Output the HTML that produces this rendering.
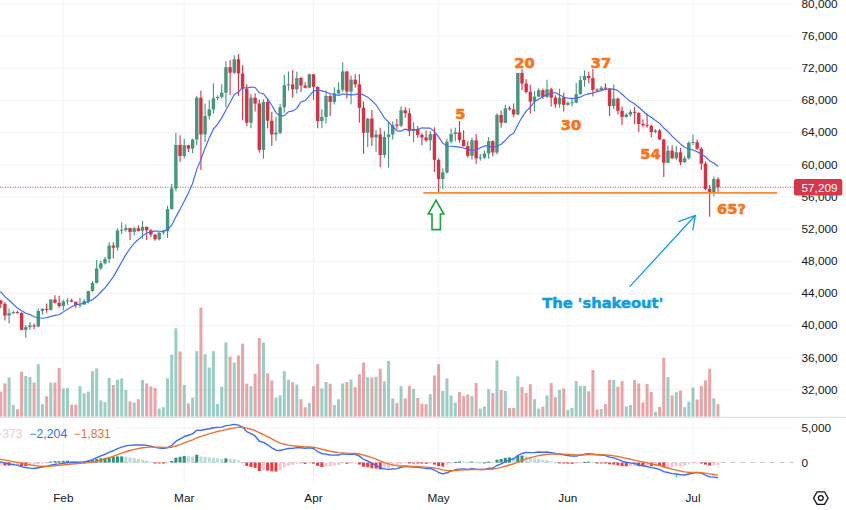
<!DOCTYPE html>
<html lang="en"><head><meta charset="utf-8"><title>BTCUSD chart</title>
<style>html,body{margin:0;padding:0;background:#fff}body{width:846px;height:510px;overflow:hidden}svg{display:block}</style>
</head><body>
<svg width="846" height="510" viewBox="0 0 846 510">
<rect width="846" height="510" fill="#fff"/>
<g stroke="#f1f3f4" stroke-width="1" fill="none">
<path d="M0 3.9 H793.6"/>
<path d="M0 36.08 H793.6"/>
<path d="M0 68.25 H793.6"/>
<path d="M0 100.43 H793.6"/>
<path d="M0 132.6 H793.6"/>
<path d="M0 164.78 H793.6"/>
<path d="M0 196.96 H793.6"/>
<path d="M0 229.13 H793.6"/>
<path d="M0 261.31 H793.6"/>
<path d="M0 293.48 H793.6"/>
<path d="M0 325.66 H793.6"/>
<path d="M0 357.84 H793.6"/>
<path d="M0 390.01 H793.6"/>
<path d="M116 427.9 H793.6"/>
<path d="M63.3 0 V483"/>
<path d="M184.23 0 V483"/>
<path d="M313.5 0 V483"/>
<path d="M438.6 0 V483"/>
<path d="M567.87 0 V483"/>
<path d="M692.97 0 V483"/>
</g>
<g fill="rgba(58,155,135,0.5)">
<rect x="7.59" y="377.5" width="3" height="39.2"/>
<rect x="11.76" y="405" width="3" height="11.7"/>
<rect x="24.27" y="375.9" width="3" height="40.8"/>
<rect x="28.44" y="377" width="3" height="39.7"/>
<rect x="36.78" y="364.2" width="3" height="52.5"/>
<rect x="40.95" y="404.2" width="3" height="12.5"/>
<rect x="49.29" y="382.5" width="3" height="34.2"/>
<rect x="61.8" y="388.4" width="3" height="28.3"/>
<rect x="65.97" y="388" width="3" height="28.7"/>
<rect x="78.48" y="386.2" width="3" height="30.5"/>
<rect x="82.65" y="393.4" width="3" height="23.3"/>
<rect x="86.82" y="391.7" width="3" height="25"/>
<rect x="90.99" y="371.2" width="3" height="45.5"/>
<rect x="95.16" y="368.4" width="3" height="48.3"/>
<rect x="99.33" y="400.4" width="3" height="16.3"/>
<rect x="103.5" y="402.2" width="3" height="14.5"/>
<rect x="107.67" y="378" width="3" height="38.7"/>
<rect x="116.01" y="379.7" width="3" height="37"/>
<rect x="120.18" y="378.4" width="3" height="38.3"/>
<rect x="124.35" y="390" width="3" height="26.7"/>
<rect x="132.69" y="402.5" width="3" height="14.2"/>
<rect x="141.03" y="380" width="3" height="36.7"/>
<rect x="157.71" y="408.7" width="3" height="8"/>
<rect x="161.88" y="407.2" width="3" height="9.5"/>
<rect x="166.05" y="378.4" width="3" height="38.3"/>
<rect x="170.22" y="354.7" width="3" height="62"/>
<rect x="174.39" y="328.3" width="3" height="88.4"/>
<rect x="182.73" y="385" width="3" height="31.7"/>
<rect x="191.07" y="397.5" width="3" height="19.2"/>
<rect x="195.24" y="351.2" width="3" height="65.5"/>
<rect x="203.58" y="354.2" width="3" height="62.5"/>
<rect x="207.75" y="367.5" width="3" height="49.2"/>
<rect x="211.92" y="351.2" width="3" height="65.5"/>
<rect x="216.09" y="403.9" width="3" height="12.8"/>
<rect x="220.26" y="386.7" width="3" height="30"/>
<rect x="224.43" y="342.2" width="3" height="74.5"/>
<rect x="232.77" y="362.5" width="3" height="54.2"/>
<rect x="249.45" y="386.2" width="3" height="30.5"/>
<rect x="261.96" y="342.5" width="3" height="74.2"/>
<rect x="274.47" y="397.5" width="3" height="19.2"/>
<rect x="278.64" y="395.4" width="3" height="21.3"/>
<rect x="282.81" y="371.2" width="3" height="45.5"/>
<rect x="286.98" y="379.7" width="3" height="37"/>
<rect x="295.32" y="384.5" width="3" height="32.2"/>
<rect x="307.83" y="403" width="3" height="13.7"/>
<rect x="320.34" y="388.4" width="3" height="28.3"/>
<rect x="324.51" y="382" width="3" height="34.7"/>
<rect x="332.85" y="405" width="3" height="11.7"/>
<rect x="337.02" y="399.2" width="3" height="17.5"/>
<rect x="341.19" y="383.4" width="3" height="33.3"/>
<rect x="349.53" y="379.5" width="3" height="37.2"/>
<rect x="366.21" y="377.2" width="3" height="39.5"/>
<rect x="374.55" y="376.7" width="3" height="40"/>
<rect x="382.89" y="381.4" width="3" height="35.3"/>
<rect x="387.06" y="360.9" width="3" height="55.8"/>
<rect x="391.23" y="398.4" width="3" height="18.3"/>
<rect x="399.57" y="386.2" width="3" height="30.5"/>
<rect x="412.08" y="388.9" width="3" height="27.8"/>
<rect x="428.76" y="394.2" width="3" height="22.5"/>
<rect x="441.27" y="390.9" width="3" height="25.8"/>
<rect x="445.44" y="378.4" width="3" height="38.3"/>
<rect x="449.61" y="395.4" width="3" height="21.3"/>
<rect x="453.78" y="402.5" width="3" height="14.2"/>
<rect x="470.46" y="395.9" width="3" height="20.8"/>
<rect x="478.8" y="408.7" width="3" height="8"/>
<rect x="482.97" y="406.4" width="3" height="10.3"/>
<rect x="487.14" y="389.2" width="3" height="27.5"/>
<rect x="495.48" y="360.4" width="3" height="56.3"/>
<rect x="503.82" y="391" width="3" height="25.7"/>
<rect x="516.33" y="376.4" width="3" height="40.3"/>
<rect x="533.01" y="399.2" width="3" height="17.5"/>
<rect x="537.18" y="408.7" width="3" height="8"/>
<rect x="545.52" y="395.4" width="3" height="21.3"/>
<rect x="558.03" y="390" width="3" height="26.7"/>
<rect x="566.37" y="410" width="3" height="6.7"/>
<rect x="570.54" y="408" width="3" height="8.7"/>
<rect x="574.71" y="381" width="3" height="35.7"/>
<rect x="578.88" y="385.9" width="3" height="30.8"/>
<rect x="583.05" y="385.9" width="3" height="30.8"/>
<rect x="599.73" y="409" width="3" height="7.7"/>
<rect x="612.24" y="380" width="3" height="36.7"/>
<rect x="624.75" y="406.4" width="3" height="10.3"/>
<rect x="628.92" y="405" width="3" height="11.7"/>
<rect x="653.94" y="411.7" width="3" height="5"/>
<rect x="666.45" y="377" width="3" height="39.7"/>
<rect x="674.79" y="392.2" width="3" height="24.5"/>
<rect x="683.13" y="407.2" width="3" height="9.5"/>
<rect x="687.3" y="401.7" width="3" height="15"/>
<rect x="691.47" y="387.5" width="3" height="29.2"/>
<rect x="712.32" y="398.4" width="3" height="18.3"/>
</g>
<g fill="rgba(211,73,79,0.5)">
<rect x="-0.75" y="391.7" width="3" height="25"/>
<rect x="3.42" y="383.4" width="3" height="33.3"/>
<rect x="15.93" y="409.2" width="3" height="7.5"/>
<rect x="20.1" y="371.7" width="3" height="45"/>
<rect x="32.61" y="382.5" width="3" height="34.2"/>
<rect x="45.12" y="396.4" width="3" height="20.3"/>
<rect x="53.46" y="382.5" width="3" height="34.2"/>
<rect x="57.63" y="367.9" width="3" height="48.8"/>
<rect x="70.14" y="404.7" width="3" height="12"/>
<rect x="74.31" y="404.7" width="3" height="12"/>
<rect x="111.84" y="385" width="3" height="31.7"/>
<rect x="128.52" y="401.4" width="3" height="15.3"/>
<rect x="136.86" y="399.2" width="3" height="17.5"/>
<rect x="145.2" y="383.4" width="3" height="33.3"/>
<rect x="149.37" y="386.4" width="3" height="30.3"/>
<rect x="153.54" y="388" width="3" height="28.7"/>
<rect x="178.56" y="351.4" width="3" height="65.3"/>
<rect x="186.9" y="403.4" width="3" height="13.3"/>
<rect x="199.41" y="307.5" width="3" height="109.2"/>
<rect x="228.6" y="356.7" width="3" height="60"/>
<rect x="236.94" y="355.4" width="3" height="61.3"/>
<rect x="241.11" y="343.7" width="3" height="73"/>
<rect x="245.28" y="383.7" width="3" height="33"/>
<rect x="253.62" y="373.7" width="3" height="43"/>
<rect x="257.79" y="338" width="3" height="78.7"/>
<rect x="266.13" y="373.4" width="3" height="43.3"/>
<rect x="270.3" y="380.4" width="3" height="36.3"/>
<rect x="291.15" y="382.2" width="3" height="34.5"/>
<rect x="299.49" y="399.2" width="3" height="17.5"/>
<rect x="303.66" y="407.2" width="3" height="9.5"/>
<rect x="312" y="386.2" width="3" height="30.5"/>
<rect x="316.17" y="364.2" width="3" height="52.5"/>
<rect x="328.68" y="383.7" width="3" height="33"/>
<rect x="345.36" y="382" width="3" height="34.7"/>
<rect x="353.7" y="387.2" width="3" height="29.5"/>
<rect x="357.87" y="374.2" width="3" height="42.5"/>
<rect x="362.04" y="362.5" width="3" height="54.2"/>
<rect x="370.38" y="377.5" width="3" height="39.2"/>
<rect x="378.72" y="368.7" width="3" height="48"/>
<rect x="395.4" y="403" width="3" height="13.7"/>
<rect x="403.74" y="398.4" width="3" height="18.3"/>
<rect x="407.91" y="385.9" width="3" height="30.8"/>
<rect x="416.25" y="398" width="3" height="18.7"/>
<rect x="420.42" y="403.7" width="3" height="13"/>
<rect x="424.59" y="404.2" width="3" height="12.5"/>
<rect x="432.93" y="375.5" width="3" height="41.2"/>
<rect x="437.1" y="364.2" width="3" height="52.5"/>
<rect x="457.95" y="392" width="3" height="24.7"/>
<rect x="462.12" y="396.2" width="3" height="20.5"/>
<rect x="466.29" y="394.5" width="3" height="22.2"/>
<rect x="474.63" y="383" width="3" height="33.7"/>
<rect x="491.31" y="393" width="3" height="23.7"/>
<rect x="499.65" y="390" width="3" height="26.7"/>
<rect x="507.99" y="408" width="3" height="8.7"/>
<rect x="512.16" y="408" width="3" height="8.7"/>
<rect x="520.5" y="387" width="3" height="29.7"/>
<rect x="524.67" y="393" width="3" height="23.7"/>
<rect x="528.84" y="384.2" width="3" height="32.5"/>
<rect x="541.35" y="406.7" width="3" height="10"/>
<rect x="549.69" y="382.9" width="3" height="33.8"/>
<rect x="553.86" y="397.2" width="3" height="19.5"/>
<rect x="562.2" y="388.4" width="3" height="28.3"/>
<rect x="587.22" y="391.4" width="3" height="25.3"/>
<rect x="591.39" y="370" width="3" height="46.7"/>
<rect x="595.56" y="409.5" width="3" height="7.2"/>
<rect x="603.9" y="403.9" width="3" height="12.8"/>
<rect x="608.07" y="380" width="3" height="36.7"/>
<rect x="616.41" y="386.7" width="3" height="30"/>
<rect x="620.58" y="381" width="3" height="35.7"/>
<rect x="633.09" y="380" width="3" height="36.7"/>
<rect x="637.26" y="383.4" width="3" height="33.3"/>
<rect x="641.43" y="402.5" width="3" height="14.2"/>
<rect x="645.6" y="383.9" width="3" height="32.8"/>
<rect x="649.77" y="392" width="3" height="24.7"/>
<rect x="658.11" y="407" width="3" height="9.7"/>
<rect x="662.28" y="358" width="3" height="58.7"/>
<rect x="670.62" y="395.4" width="3" height="21.3"/>
<rect x="678.96" y="390.5" width="3" height="26.2"/>
<rect x="695.64" y="399.4" width="3" height="17.3"/>
<rect x="699.81" y="386.2" width="3" height="30.5"/>
<rect x="703.98" y="380.4" width="3" height="36.3"/>
<rect x="708.15" y="368.7" width="3" height="48"/>
<rect x="716.49" y="404.2" width="3" height="12.5"/>
</g>
<path d="M0 417.3 H846" stroke="#e0e3eb" stroke-width="1.2"/>
<path d="M0 187.23 H793.6" stroke="#d93046" stroke-width="1" stroke-dasharray="1 1.5" opacity="0.9"/>
<g fill="#44967c" stroke="#44967c">
<path d="M9.09 308.53 V323.57" stroke-width="1.1" fill="none"/>
<rect x="7.39" y="313.19" width="3.4" height="2.33" stroke="none"/>
<path d="M13.26 310.7 V314" stroke-width="1.1" fill="none"/>
<rect x="11.56" y="312.15" width="3.4" height="1.05" stroke="none"/>
<path d="M25.77 325.18 V337.73" stroke-width="1.1" fill="none"/>
<rect x="24.07" y="327.19" width="3.4" height="2.65" stroke="none"/>
<path d="M29.94 321.88 V329.76" stroke-width="1.1" fill="none"/>
<rect x="28.24" y="325.5" width="3.4" height="1.69" stroke="none"/>
<path d="M38.28 308.53 V327.27" stroke-width="1.1" fill="none"/>
<rect x="36.58" y="311.02" width="3.4" height="15.44" stroke="none"/>
<path d="M42.45 308.2 V314.4" stroke-width="1.1" fill="none"/>
<rect x="40.75" y="308.85" width="3.4" height="2.17" stroke="none"/>
<path d="M50.79 299.2 V310.54" stroke-width="1.1" fill="none"/>
<rect x="49.09" y="299.52" width="3.4" height="10.38" stroke="none"/>
<path d="M63.3 299.84 V310.22" stroke-width="1.1" fill="none"/>
<rect x="61.6" y="301.37" width="3.4" height="4.67" stroke="none"/>
<path d="M67.47 298.15 V304.83" stroke-width="1.1" fill="none"/>
<rect x="65.77" y="300.46" width="3.4" height="1" stroke="none"/>
<path d="M79.98 297.67 V307.72" stroke-width="1.1" fill="none"/>
<rect x="78.28" y="304.37" width="3.4" height="1" stroke="none"/>
<path d="M84.15 299.36 V304.83" stroke-width="1.1" fill="none"/>
<rect x="82.45" y="301.05" width="3.4" height="3.46" stroke="none"/>
<path d="M88.32 290.67 V303.54" stroke-width="1.1" fill="none"/>
<rect x="86.62" y="291.07" width="3.4" height="9.97" stroke="none"/>
<path d="M92.49 281.02 V291.71" stroke-width="1.1" fill="none"/>
<rect x="90.79" y="282.87" width="3.4" height="8.2" stroke="none"/>
<path d="M96.66 260.02 V283.43" stroke-width="1.1" fill="none"/>
<rect x="94.96" y="268.35" width="3.4" height="14.52" stroke="none"/>
<path d="M100.83 260.66 V270" stroke-width="1.1" fill="none"/>
<rect x="99.13" y="263.32" width="3.4" height="5.03" stroke="none"/>
<path d="M105 256.64 V264.53" stroke-width="1.1" fill="none"/>
<rect x="103.3" y="258.98" width="3.4" height="4.34" stroke="none"/>
<path d="M109.17 242.32 V263.32" stroke-width="1.1" fill="none"/>
<rect x="107.47" y="245.62" width="3.4" height="13.35" stroke="none"/>
<path d="M117.51 228.33 V250.69" stroke-width="1.1" fill="none"/>
<rect x="115.81" y="230.5" width="3.4" height="17.13" stroke="none"/>
<path d="M121.68 222.29 V233.96" stroke-width="1.1" fill="none"/>
<rect x="119.98" y="229.72" width="3.4" height="1" stroke="none"/>
<path d="M125.85 224.55 V231.71" stroke-width="1.1" fill="none"/>
<rect x="124.15" y="228.01" width="3.4" height="1.93" stroke="none"/>
<path d="M134.19 226.72 V235.57" stroke-width="1.1" fill="none"/>
<rect x="132.49" y="228.17" width="3.4" height="3.7" stroke="none"/>
<path d="M142.53 220.85 V238.7" stroke-width="1.1" fill="none"/>
<rect x="140.83" y="226.88" width="3.4" height="4.02" stroke="none"/>
<path d="M159.21 232.35 V240.39" stroke-width="1.1" fill="none"/>
<rect x="157.51" y="232.59" width="3.4" height="6.68" stroke="none"/>
<path d="M163.38 229.94 V234.76" stroke-width="1.1" fill="none"/>
<rect x="161.68" y="231.3" width="3.4" height="1.29" stroke="none"/>
<path d="M167.55 205.64 V237.9" stroke-width="1.1" fill="none"/>
<rect x="165.85" y="209.18" width="3.4" height="22.12" stroke="none"/>
<path d="M171.72 184.09 V209.18" stroke-width="1.1" fill="none"/>
<rect x="170.02" y="188.51" width="3.4" height="20.67" stroke="none"/>
<path d="M175.89 132.76 V191.16" stroke-width="1.1" fill="none"/>
<rect x="174.19" y="144.95" width="3.4" height="43.56" stroke="none"/>
<path d="M184.23 138.64 V158.34" stroke-width="1.1" fill="none"/>
<rect x="182.53" y="145.31" width="3.4" height="10.62" stroke="none"/>
<path d="M192.57 138.64 V153.28" stroke-width="1.1" fill="none"/>
<rect x="190.87" y="139.44" width="3.4" height="9.17" stroke="none"/>
<path d="M196.74 96 V145.31" stroke-width="1.1" fill="none"/>
<rect x="195.04" y="97.69" width="3.4" height="41.75" stroke="none"/>
<path d="M205.08 103.57 V141.94" stroke-width="1.1" fill="none"/>
<rect x="203.38" y="116.03" width="3.4" height="18.42" stroke="none"/>
<path d="M209.25 100.19 V119.41" stroke-width="1.1" fill="none"/>
<rect x="207.55" y="109.36" width="3.4" height="6.68" stroke="none"/>
<path d="M213.42 83.21 V113.86" stroke-width="1.1" fill="none"/>
<rect x="211.72" y="98.18" width="3.4" height="11.18" stroke="none"/>
<path d="M217.59 95.2 V100.19" stroke-width="1.1" fill="none"/>
<rect x="215.89" y="96.89" width="3.4" height="1.29" stroke="none"/>
<path d="M221.76 84.34 V98.5" stroke-width="1.1" fill="none"/>
<rect x="220.06" y="92.71" width="3.4" height="4.18" stroke="none"/>
<path d="M225.93 61.01 V107.18" stroke-width="1.1" fill="none"/>
<rect x="224.23" y="67.17" width="3.4" height="25.54" stroke="none"/>
<path d="M234.27 55.14 V73.88" stroke-width="1.1" fill="none"/>
<rect x="232.57" y="59.32" width="3.4" height="13.35" stroke="none"/>
<path d="M250.95 93.99 V128.26" stroke-width="1.1" fill="none"/>
<rect x="249.25" y="97.69" width="3.4" height="25.02" stroke="none"/>
<path d="M263.46 99.38 V158.67" stroke-width="1.1" fill="none"/>
<rect x="261.76" y="101.88" width="3.4" height="48.02" stroke="none"/>
<path d="M275.97 116.68 V140.65" stroke-width="1.1" fill="none"/>
<rect x="274.27" y="132.76" width="3.4" height="1.69" stroke="none"/>
<path d="M280.14 103.89 V134.21" stroke-width="1.1" fill="none"/>
<rect x="278.44" y="107.27" width="3.4" height="25.5" stroke="none"/>
<path d="M284.31 74.85 V112.74" stroke-width="1.1" fill="none"/>
<rect x="282.61" y="85.22" width="3.4" height="22.04" stroke="none"/>
<path d="M288.48 71.47 V90.53" stroke-width="1.1" fill="none"/>
<rect x="286.78" y="84.28" width="3.4" height="1" stroke="none"/>
<path d="M296.82 71.79 V93.51" stroke-width="1.1" fill="none"/>
<rect x="295.12" y="77.99" width="3.4" height="11.18" stroke="none"/>
<path d="M309.33 73.48 V88.2" stroke-width="1.1" fill="none"/>
<rect x="307.63" y="74.37" width="3.4" height="13.35" stroke="none"/>
<path d="M321.84 109.36 V128.26" stroke-width="1.1" fill="none"/>
<rect x="320.14" y="116.92" width="3.4" height="4.14" stroke="none"/>
<path d="M326.01 90.21 V123.59" stroke-width="1.1" fill="none"/>
<rect x="324.31" y="96" width="3.4" height="20.91" stroke="none"/>
<path d="M334.35 87.16 V104.45" stroke-width="1.1" fill="none"/>
<rect x="332.65" y="93.51" width="3.4" height="8.37" stroke="none"/>
<path d="M338.52 82.17 V93.99" stroke-width="1.1" fill="none"/>
<rect x="336.82" y="89.89" width="3.4" height="3.62" stroke="none"/>
<path d="M342.69 62.3 V91.9" stroke-width="1.1" fill="none"/>
<rect x="340.99" y="71.47" width="3.4" height="18.42" stroke="none"/>
<path d="M351.03 75.49 V104.37" stroke-width="1.1" fill="none"/>
<rect x="349.33" y="79.67" width="3.4" height="11.91" stroke="none"/>
<path d="M367.71 118.12 V146.95" stroke-width="1.1" fill="none"/>
<rect x="366.01" y="118.61" width="3.4" height="14.16" stroke="none"/>
<path d="M376.05 129.95 V151.63" stroke-width="1.1" fill="none"/>
<rect x="374.35" y="134.45" width="3.4" height="2.98" stroke="none"/>
<path d="M384.39 131.08 V157.78" stroke-width="1.1" fill="none"/>
<rect x="382.69" y="136.95" width="3.4" height="18.02" stroke="none"/>
<path d="M388.56 121.91 V167.84" stroke-width="1.1" fill="none"/>
<rect x="386.86" y="134.45" width="3.4" height="2.49" stroke="none"/>
<path d="M392.73 121.58 V139.44" stroke-width="1.1" fill="none"/>
<rect x="391.03" y="125.28" width="3.4" height="9.17" stroke="none"/>
<path d="M401.07 106.54 V127.29" stroke-width="1.1" fill="none"/>
<rect x="399.37" y="110.24" width="3.4" height="15.52" stroke="none"/>
<path d="M413.58 122.23 V142.26" stroke-width="1.1" fill="none"/>
<rect x="411.88" y="128.9" width="3.4" height="2.17" stroke="none"/>
<path d="M430.26 131.08 V150.62" stroke-width="1.1" fill="none"/>
<rect x="428.56" y="134.21" width="3.4" height="6.03" stroke="none"/>
<path d="M442.77 168.32 V188.99" stroke-width="1.1" fill="none"/>
<rect x="441.07" y="172.34" width="3.4" height="6.68" stroke="none"/>
<path d="M446.94 138.64 V173.63" stroke-width="1.1" fill="none"/>
<rect x="445.24" y="141.61" width="3.4" height="30.73" stroke="none"/>
<path d="M451.11 128.58 V143.62" stroke-width="1.1" fill="none"/>
<rect x="449.41" y="133.97" width="3.4" height="7.64" stroke="none"/>
<path d="M455.28 127.78 V141.13" stroke-width="1.1" fill="none"/>
<rect x="453.58" y="132.28" width="3.4" height="1.69" stroke="none"/>
<path d="M471.96 137.75 V159.47" stroke-width="1.1" fill="none"/>
<rect x="470.26" y="140.25" width="3.4" height="15.52" stroke="none"/>
<path d="M480.3 153.96 V160.76" stroke-width="1.1" fill="none"/>
<rect x="478.6" y="157.44" width="3.4" height="1" stroke="none"/>
<path d="M484.47 150.62 V158.99" stroke-width="1.1" fill="none"/>
<rect x="482.77" y="153.52" width="3.4" height="4.02" stroke="none"/>
<path d="M488.64 136.95 V158.67" stroke-width="1.1" fill="none"/>
<rect x="486.94" y="141.13" width="3.4" height="12.39" stroke="none"/>
<path d="M496.98 113.22 V154.48" stroke-width="1.1" fill="none"/>
<rect x="495.28" y="114.91" width="3.4" height="37.57" stroke="none"/>
<path d="M505.32 104.85 V123.19" stroke-width="1.1" fill="none"/>
<rect x="503.62" y="108.23" width="3.4" height="14.48" stroke="none"/>
<path d="M517.83 72.68 V115.23" stroke-width="1.1" fill="none"/>
<rect x="516.13" y="73" width="3.4" height="41.43" stroke="none"/>
<path d="M534.51 91.02 V111.53" stroke-width="1.1" fill="none"/>
<rect x="532.81" y="96.57" width="3.4" height="4.99" stroke="none"/>
<path d="M538.68 88.2 V97.21" stroke-width="1.1" fill="none"/>
<rect x="536.98" y="90.21" width="3.4" height="6.35" stroke="none"/>
<path d="M547.02 79.84 V98.18" stroke-width="1.1" fill="none"/>
<rect x="545.32" y="89.37" width="3.4" height="7.52" stroke="none"/>
<path d="M559.53 88.84 V107.75" stroke-width="1.1" fill="none"/>
<rect x="557.83" y="97.69" width="3.4" height="6.68" stroke="none"/>
<path d="M567.87 101.55 V105.66" stroke-width="1.1" fill="none"/>
<rect x="566.17" y="102.84" width="3.4" height="2.01" stroke="none"/>
<path d="M572.04 98.18 V106.54" stroke-width="1.1" fill="none"/>
<rect x="570.34" y="102.26" width="3.4" height="1" stroke="none"/>
<path d="M576.21 82.73 V103.24" stroke-width="1.1" fill="none"/>
<rect x="574.51" y="94.15" width="3.4" height="8.53" stroke="none"/>
<path d="M580.38 76.01 V94.64" stroke-width="1.1" fill="none"/>
<rect x="578.68" y="80.16" width="3.4" height="14" stroke="none"/>
<path d="M584.55 70.5 V86.83" stroke-width="1.1" fill="none"/>
<rect x="582.85" y="76.01" width="3.4" height="4.14" stroke="none"/>
<path d="M601.23 86.03 V90.21" stroke-width="1.1" fill="none"/>
<rect x="599.53" y="87.72" width="3.4" height="2.41" stroke="none"/>
<path d="M613.74 84.42 V109.36" stroke-width="1.1" fill="none"/>
<rect x="612.04" y="98.58" width="3.4" height="7.52" stroke="none"/>
<path d="M626.25 113.3 V117.64" stroke-width="1.1" fill="none"/>
<rect x="624.55" y="114.67" width="3.4" height="2.25" stroke="none"/>
<path d="M630.42 109.44 V116.6" stroke-width="1.1" fill="none"/>
<rect x="628.72" y="111.93" width="3.4" height="2.73" stroke="none"/>
<path d="M655.44 128.98 V133.25" stroke-width="1.1" fill="none"/>
<rect x="653.74" y="130.59" width="3.4" height="1.37" stroke="none"/>
<path d="M667.95 145.6 V163.25" stroke-width="1.1" fill="none"/>
<rect x="666.25" y="150.62" width="3.4" height="12.15" stroke="none"/>
<path d="M676.29 146.12 V160.28" stroke-width="1.1" fill="none"/>
<rect x="674.59" y="152.27" width="3.4" height="5.99" stroke="none"/>
<path d="M684.63 156.09 V162.77" stroke-width="1.1" fill="none"/>
<rect x="682.93" y="158.26" width="3.4" height="4.02" stroke="none"/>
<path d="M688.8 141.13 V159.47" stroke-width="1.1" fill="none"/>
<rect x="687.1" y="142.74" width="3.4" height="15.52" stroke="none"/>
<path d="M692.97 134.45 V144.99" stroke-width="1.1" fill="none"/>
<rect x="691.27" y="142" width="3.4" height="1" stroke="none"/>
<path d="M713.82 176.6 V196.15" stroke-width="1.1" fill="none"/>
<rect x="712.12" y="178.94" width="3.4" height="13.03" stroke="none"/>
</g>
<g fill="#d93046" stroke="#d93046">
<path d="M0.75 299.92 V307.96" stroke-width="1.1" fill="none"/>
<rect x="-0.95" y="300.48" width="3.4" height="3.3" stroke="none"/>
<path d="M4.92 302.33 V320.51" stroke-width="1.1" fill="none"/>
<rect x="3.22" y="303.78" width="3.4" height="11.74" stroke="none"/>
<path d="M17.43 310.7 V313.59" stroke-width="1.1" fill="none"/>
<rect x="15.73" y="312.09" width="3.4" height="1" stroke="none"/>
<path d="M21.6 312.15 V330.33" stroke-width="1.1" fill="none"/>
<rect x="19.9" y="313.03" width="3.4" height="16.81" stroke="none"/>
<path d="M34.11 323.57 V329.36" stroke-width="1.1" fill="none"/>
<rect x="32.41" y="325.48" width="3.4" height="1" stroke="none"/>
<path d="M46.62 303.54 V312.71" stroke-width="1.1" fill="none"/>
<rect x="44.92" y="308.85" width="3.4" height="1.05" stroke="none"/>
<path d="M54.96 295.17 V303.54" stroke-width="1.1" fill="none"/>
<rect x="53.26" y="299.52" width="3.4" height="3.22" stroke="none"/>
<path d="M59.13 295.66 V307.72" stroke-width="1.1" fill="none"/>
<rect x="57.43" y="302.73" width="3.4" height="3.3" stroke="none"/>
<path d="M71.64 298.87 V302.33" stroke-width="1.1" fill="none"/>
<rect x="69.94" y="300.56" width="3.4" height="1.29" stroke="none"/>
<path d="M75.81 301.53 V307.72" stroke-width="1.1" fill="none"/>
<rect x="74.11" y="301.85" width="3.4" height="3.38" stroke="none"/>
<path d="M113.34 242.32 V258.49" stroke-width="1.1" fill="none"/>
<rect x="111.64" y="245.62" width="3.4" height="2.01" stroke="none"/>
<path d="M130.02 227.68 V240.07" stroke-width="1.1" fill="none"/>
<rect x="128.32" y="228.01" width="3.4" height="3.86" stroke="none"/>
<path d="M138.36 225.35 V231.55" stroke-width="1.1" fill="none"/>
<rect x="136.66" y="228.17" width="3.4" height="2.73" stroke="none"/>
<path d="M146.7 226.48 V239.99" stroke-width="1.1" fill="none"/>
<rect x="145" y="226.88" width="3.4" height="3.46" stroke="none"/>
<path d="M150.87 228.97 V237.18" stroke-width="1.1" fill="none"/>
<rect x="149.17" y="230.34" width="3.4" height="4.26" stroke="none"/>
<path d="M155.04 233.96 V240.72" stroke-width="1.1" fill="none"/>
<rect x="153.34" y="234.6" width="3.4" height="4.67" stroke="none"/>
<path d="M180.06 135.26 V161.96" stroke-width="1.1" fill="none"/>
<rect x="178.36" y="144.95" width="3.4" height="10.98" stroke="none"/>
<path d="M188.4 144.67 V151.91" stroke-width="1.1" fill="none"/>
<rect x="186.7" y="145.31" width="3.4" height="3.3" stroke="none"/>
<path d="M200.91 90.53 V170.01" stroke-width="1.1" fill="none"/>
<rect x="199.21" y="97.69" width="3.4" height="36.76" stroke="none"/>
<path d="M230.1 59.81 V95.2" stroke-width="1.1" fill="none"/>
<rect x="228.4" y="67.17" width="3.4" height="5.51" stroke="none"/>
<path d="M238.44 54.34 V96" stroke-width="1.1" fill="none"/>
<rect x="236.74" y="59.32" width="3.4" height="14.16" stroke="none"/>
<path d="M242.61 65.2 V120.22" stroke-width="1.1" fill="none"/>
<rect x="240.91" y="73.48" width="3.4" height="15.36" stroke="none"/>
<path d="M246.78 84.34 V126.09" stroke-width="1.1" fill="none"/>
<rect x="245.08" y="88.84" width="3.4" height="33.87" stroke="none"/>
<path d="M255.12 93.51 V111.53" stroke-width="1.1" fill="none"/>
<rect x="253.42" y="97.69" width="3.4" height="5.87" stroke="none"/>
<path d="M259.29 99.38 V152.79" stroke-width="1.1" fill="none"/>
<rect x="257.59" y="103.57" width="3.4" height="46.33" stroke="none"/>
<path d="M267.63 98.5 V128.26" stroke-width="1.1" fill="none"/>
<rect x="265.93" y="101.88" width="3.4" height="18.82" stroke="none"/>
<path d="M271.8 111.85 V146.12" stroke-width="1.1" fill="none"/>
<rect x="270.1" y="120.7" width="3.4" height="13.76" stroke="none"/>
<path d="M292.65 70.18 V97.69" stroke-width="1.1" fill="none"/>
<rect x="290.95" y="84.34" width="3.4" height="4.83" stroke="none"/>
<path d="M300.99 76.86 V91.9" stroke-width="1.1" fill="none"/>
<rect x="299.29" y="77.99" width="3.4" height="7.56" stroke="none"/>
<path d="M305.16 82.17 V88.2" stroke-width="1.1" fill="none"/>
<rect x="303.46" y="85.55" width="3.4" height="2.17" stroke="none"/>
<path d="M313.5 73.88 V99.86" stroke-width="1.1" fill="none"/>
<rect x="311.8" y="74.37" width="3.4" height="12.47" stroke="none"/>
<path d="M317.67 86.51 V128.26" stroke-width="1.1" fill="none"/>
<rect x="315.97" y="86.83" width="3.4" height="34.23" stroke="none"/>
<path d="M330.18 94.31 V116.03" stroke-width="1.1" fill="none"/>
<rect x="328.48" y="96" width="3.4" height="5.87" stroke="none"/>
<path d="M346.86 70.67 V98.5" stroke-width="1.1" fill="none"/>
<rect x="345.16" y="71.47" width="3.4" height="20.11" stroke="none"/>
<path d="M355.2 74.37 V87.72" stroke-width="1.1" fill="none"/>
<rect x="353.5" y="79.67" width="3.4" height="4.67" stroke="none"/>
<path d="M359.37 74.37 V122.71" stroke-width="1.1" fill="none"/>
<rect x="357.67" y="84.34" width="3.4" height="23.41" stroke="none"/>
<path d="M363.54 101.55 V153.96" stroke-width="1.1" fill="none"/>
<rect x="361.84" y="107.75" width="3.4" height="25.02" stroke="none"/>
<path d="M371.88 109.92 V146.12" stroke-width="1.1" fill="none"/>
<rect x="370.18" y="118.61" width="3.4" height="18.82" stroke="none"/>
<path d="M380.22 127.78 V167.27" stroke-width="1.1" fill="none"/>
<rect x="378.52" y="134.45" width="3.4" height="20.51" stroke="none"/>
<path d="M396.9 118.93 V129.39" stroke-width="1.1" fill="none"/>
<rect x="395.2" y="124.56" width="3.4" height="1.21" stroke="none"/>
<path d="M405.24 107.18 V117.72" stroke-width="1.1" fill="none"/>
<rect x="403.54" y="110.24" width="3.4" height="2.98" stroke="none"/>
<path d="M409.41 108.23 V136.14" stroke-width="1.1" fill="none"/>
<rect x="407.71" y="113.22" width="3.4" height="17.86" stroke="none"/>
<path d="M417.75 126.09 V137.75" stroke-width="1.1" fill="none"/>
<rect x="416.05" y="128.9" width="3.4" height="6.03" stroke="none"/>
<path d="M421.92 133.25 V145.31" stroke-width="1.1" fill="none"/>
<rect x="420.22" y="134.94" width="3.4" height="2.49" stroke="none"/>
<path d="M426.09 130.59 V141.94" stroke-width="1.1" fill="none"/>
<rect x="424.39" y="137.43" width="3.4" height="2.82" stroke="none"/>
<path d="M434.43 127.29 V172.02" stroke-width="1.1" fill="none"/>
<rect x="432.73" y="134.21" width="3.4" height="25.74" stroke="none"/>
<path d="M438.6 158.34 V192.37" stroke-width="1.1" fill="none"/>
<rect x="436.9" y="159.95" width="3.4" height="19.06" stroke="none"/>
<path d="M459.45 121.1 V142.82" stroke-width="1.1" fill="none"/>
<rect x="457.75" y="132.28" width="3.4" height="7.64" stroke="none"/>
<path d="M463.62 130.27 V146.6" stroke-width="1.1" fill="none"/>
<rect x="461.92" y="139.92" width="3.4" height="6.19" stroke="none"/>
<path d="M467.79 141.13 V157.78" stroke-width="1.1" fill="none"/>
<rect x="466.09" y="146.12" width="3.4" height="9.65" stroke="none"/>
<path d="M476.13 133.97 V163.65" stroke-width="1.1" fill="none"/>
<rect x="474.43" y="140.25" width="3.4" height="18.1" stroke="none"/>
<path d="M492.81 140.33 V156.13" stroke-width="1.1" fill="none"/>
<rect x="491.11" y="141.13" width="3.4" height="11.34" stroke="none"/>
<path d="M501.15 110.56 V127.78" stroke-width="1.1" fill="none"/>
<rect x="499.45" y="114.91" width="3.4" height="7.8" stroke="none"/>
<path d="M509.49 106.06 V110.56" stroke-width="1.1" fill="none"/>
<rect x="507.79" y="108.23" width="3.4" height="1.13" stroke="none"/>
<path d="M513.66 103.57 V117.24" stroke-width="1.1" fill="none"/>
<rect x="511.96" y="109.36" width="3.4" height="5.07" stroke="none"/>
<path d="M522 69.34 V90.21" stroke-width="1.1" fill="none"/>
<rect x="520.3" y="73" width="3.4" height="10.54" stroke="none"/>
<path d="M526.17 79.35 V93.51" stroke-width="1.1" fill="none"/>
<rect x="524.47" y="83.54" width="3.4" height="8.37" stroke="none"/>
<path d="M530.34 84.82 V113.54" stroke-width="1.1" fill="none"/>
<rect x="528.64" y="91.9" width="3.4" height="9.65" stroke="none"/>
<path d="M542.85 88.52 V98.9" stroke-width="1.1" fill="none"/>
<rect x="541.15" y="90.21" width="3.4" height="6.68" stroke="none"/>
<path d="M551.19 88.04 V106.54" stroke-width="1.1" fill="none"/>
<rect x="549.49" y="89.37" width="3.4" height="8.33" stroke="none"/>
<path d="M555.36 95.2 V107.75" stroke-width="1.1" fill="none"/>
<rect x="553.66" y="97.69" width="3.4" height="6.68" stroke="none"/>
<path d="M563.7 92.71 V111.53" stroke-width="1.1" fill="none"/>
<rect x="562" y="97.69" width="3.4" height="7.16" stroke="none"/>
<path d="M588.72 71.83 V83.21" stroke-width="1.1" fill="none"/>
<rect x="587.02" y="76.01" width="3.4" height="2.13" stroke="none"/>
<path d="M592.89 69.06 V96.57" stroke-width="1.1" fill="none"/>
<rect x="591.19" y="78.15" width="3.4" height="11.74" stroke="none"/>
<path d="M597.06 88.2 V91.02" stroke-width="1.1" fill="none"/>
<rect x="595.36" y="89.51" width="3.4" height="1" stroke="none"/>
<path d="M605.4 83.54 V90.53" stroke-width="1.1" fill="none"/>
<rect x="603.7" y="87.62" width="3.4" height="1" stroke="none"/>
<path d="M609.57 87.88 V116.11" stroke-width="1.1" fill="none"/>
<rect x="607.87" y="88.52" width="3.4" height="17.58" stroke="none"/>
<path d="M617.91 97.77 V114.42" stroke-width="1.1" fill="none"/>
<rect x="616.21" y="98.58" width="3.4" height="12.23" stroke="none"/>
<path d="M622.08 106.62 V124.96" stroke-width="1.1" fill="none"/>
<rect x="620.38" y="110.8" width="3.4" height="6.11" stroke="none"/>
<path d="M634.59 106.94 V123.96" stroke-width="1.1" fill="none"/>
<rect x="632.89" y="111.91" width="3.4" height="1" stroke="none"/>
<path d="M638.76 112.25 V131.96" stroke-width="1.1" fill="none"/>
<rect x="637.06" y="112.9" width="3.4" height="11.06" stroke="none"/>
<path d="M642.93 119.45 V127.29" stroke-width="1.1" fill="none"/>
<rect x="641.23" y="123.96" width="3.4" height="1.33" stroke="none"/>
<path d="M647.1 113.62 V127.78" stroke-width="1.1" fill="none"/>
<rect x="645.4" y="125.11" width="3.4" height="1" stroke="none"/>
<path d="M651.27 124.48 V137.31" stroke-width="1.1" fill="none"/>
<rect x="649.57" y="125.93" width="3.4" height="6.03" stroke="none"/>
<path d="M659.61 128.98 V139.92" stroke-width="1.1" fill="none"/>
<rect x="657.91" y="130.59" width="3.4" height="8.85" stroke="none"/>
<path d="M663.78 138.96 V176.93" stroke-width="1.1" fill="none"/>
<rect x="662.08" y="139.44" width="3.4" height="23.33" stroke="none"/>
<path d="M672.12 145.23 V158.99" stroke-width="1.1" fill="none"/>
<rect x="670.42" y="150.62" width="3.4" height="7.64" stroke="none"/>
<path d="M680.46 147.77 V165.26" stroke-width="1.1" fill="none"/>
<rect x="678.76" y="152.27" width="3.4" height="10.01" stroke="none"/>
<path d="M697.14 139.44 V149.98" stroke-width="1.1" fill="none"/>
<rect x="695.44" y="142.26" width="3.4" height="6.35" stroke="none"/>
<path d="M701.31 146.92 V169.93" stroke-width="1.1" fill="none"/>
<rect x="699.61" y="148.61" width="3.4" height="15" stroke="none"/>
<path d="M705.48 161.56 V190.28" stroke-width="1.1" fill="none"/>
<rect x="703.78" y="163.61" width="3.4" height="25.3" stroke="none"/>
<path d="M709.65 184.97 V216.66" stroke-width="1.1" fill="none"/>
<rect x="707.95" y="188.91" width="3.4" height="3.06" stroke="none"/>
<path d="M717.99 177.33 V191.65" stroke-width="1.1" fill="none"/>
<rect x="716.29" y="179.26" width="3.4" height="7.97" stroke="none"/>
</g>
<path d="M423.3 192.9 H777" stroke="#fb8a33" stroke-width="1.9"/>
<polyline points="-3.42 290.99 0.75 291.96 4.92 296.56 9.09 300.23 13.26 304.23 17.43 308.08 21.6 310.79 25.77 313.23 29.94 314.61 34.11 316.7 38.28 317.77 42.45 318.28 46.62 317.71 50.79 316.35 54.96 315.4 59.13 314.7 63.3 311.86 67.47 309.19 71.64 306.83 75.81 304.71 79.98 304.05 84.15 303.27 88.32 301.39 92.49 299.73 96.66 296.29 100.83 292.02 105 287.78 109.17 282.28 113.34 276.86 117.51 269.39 121.68 261.93 125.85 254.63 130.02 248.71 134.19 243.24 138.36 239.49 142.53 235.85 146.7 232.99 150.87 231.88 155.04 231.05 159.21 231.26 163.38 231.39 167.55 229.51 171.72 225.17 175.89 216.85 180.06 209.36 184.23 201.2 188.4 193.03 192.57 183.51 196.74 169.35 200.91 159.54 205.08 148.01 209.25 138.03 213.42 129 217.59 124.19 221.76 117.87 225.93 110.05 230.1 102.46 234.27 94.45 238.44 92.03 242.61 87.47 246.78 88.13 250.95 86.97 255.12 87.51 259.29 92.81 263.46 93.72 267.63 99.08 271.8 105.25 275.97 112.6 280.14 115.98 284.31 115.62 288.48 111.78 292.65 110.93 296.82 108.37 300.99 101.93 305.16 100.52 309.33 95.88 313.5 91.12 317.67 89.95 321.84 90.92 326.01 91.99 330.18 93.75 334.35 94.18 338.52 95.37 342.69 93.96 346.86 94.35 351.03 94.88 355.2 94.63 359.37 93.3 363.54 94.89 367.71 97.15 371.88 100.7 376.05 104.8 380.22 111.3 384.39 117.85 388.56 122.14 392.73 126.7 396.9 130.84 401.07 131.09 405.24 129.14 409.41 130.38 413.58 129.53 417.75 129.58 421.92 127.83 426.09 128.16 430.26 128.13 434.43 131.6 438.6 136.92 442.77 143.13 446.94 145.97 451.11 146.26 455.28 146.6 459.45 147.1 463.62 147.97 467.79 149.52 471.96 150.12 476.13 149.96 480.3 147.82 484.47 145.93 488.64 145.88 492.81 147.73 496.98 146 501.15 144.28 505.32 140.49 509.49 135.85 513.66 133.26 517.83 124.73 522 117.33 526.17 111.17 530.34 107.21 534.51 101.62 538.68 99.15 542.85 96.57 547.02 94.68 551.19 93.51 555.36 92.51 559.53 94.98 563.7 97.11 567.87 98.2 572.04 98.32 576.21 98.08 580.38 97.07 584.55 94.98 588.72 93.86 592.89 93.08 597.06 91.66 601.23 90.66 605.4 89.03 609.57 89.35 613.74 88.94 617.91 90.61 622.08 94.28 626.25 98.15 630.42 101.53 634.59 103.83 638.76 107.21 642.93 110.97 647.1 114.71 651.27 117.29 655.44 120.49 659.61 123.36 663.78 127.94 667.95 131.54 672.12 136.17 676.29 140.11 680.46 143.94 684.63 147.24 688.8 148.92 692.97 149.95 697.14 151.75 701.31 154.17 705.48 156.78 709.65 160.92 713.82 162.99 717.99 166.48" fill="none" stroke="#3b6cf6" stroke-width="1.15" stroke-linejoin="round"/>
<path d="M0 462.5 H793.6" stroke="#c6c8ce" stroke-width="1" stroke-dasharray="4.8 5" stroke-dashoffset="4.4"/>
<g fill="#2f917a"><rect x="49.29" y="461.58" width="3" height="1"/><rect x="53.46" y="461.14" width="3" height="1.36"/><rect x="57.63" y="461.09" width="3" height="1.41"/><rect x="61.8" y="460.85" width="3" height="1.65"/><rect x="65.97" y="460.72" width="3" height="1.78"/><rect x="82.65" y="461.29" width="3" height="1.21"/><rect x="86.82" y="460.8" width="3" height="1.7"/><rect x="90.99" y="460.13" width="3" height="2.37"/><rect x="95.16" y="459.04" width="3" height="3.46"/><rect x="99.33" y="458.28" width="3" height="4.22"/><rect x="103.5" y="457.8" width="3" height="4.7"/><rect x="107.67" y="457.05" width="3" height="5.45"/><rect x="111.84" y="457.02" width="3" height="5.48"/><rect x="116.01" y="456.4" width="3" height="6.1"/><rect x="120.18" y="456.38" width="3" height="6.12"/><rect x="170.22" y="460.94" width="3" height="1.56"/><rect x="174.39" y="457.78" width="3" height="4.72"/><rect x="178.56" y="456.8" width="3" height="5.7"/><rect x="182.73" y="456.06" width="3" height="6.44"/><rect x="195.24" y="454.79" width="3" height="7.71"/><rect x="224.43" y="458.43" width="3" height="4.07"/><rect x="453.78" y="461.86" width="3" height="1"/><rect x="457.95" y="461.45" width="3" height="1.05"/><rect x="470.46" y="461.53" width="3" height="1"/><rect x="482.97" y="462.38" width="3" height="1"/><rect x="487.14" y="461.59" width="3" height="1"/><rect x="495.48" y="459.69" width="3" height="2.81"/><rect x="499.65" y="458.95" width="3" height="3.55"/><rect x="503.82" y="457.84" width="3" height="4.66"/><rect x="507.99" y="457.41" width="3" height="5.09"/><rect x="516.33" y="455.79" width="3" height="6.71"/><rect x="520.5" y="455.55" width="3" height="6.95"/><rect x="583.05" y="461.84" width="3" height="1"/><rect x="587.22" y="461.58" width="3" height="1"/></g>
<g fill="#b7ddd6"><rect x="70.14" y="460.78" width="3" height="1.72"/><rect x="74.31" y="461.08" width="3" height="1.42"/><rect x="78.48" y="461.3" width="3" height="1.2"/><rect x="124.35" y="456.66" width="3" height="5.84"/><rect x="128.52" y="457.45" width="3" height="5.05"/><rect x="132.69" y="458.12" width="3" height="4.38"/><rect x="136.86" y="459.04" width="3" height="3.46"/><rect x="141.03" y="459.71" width="3" height="2.79"/><rect x="145.2" y="460.59" width="3" height="1.91"/><rect x="149.37" y="461.62" width="3" height="1"/><rect x="186.9" y="456.3" width="3" height="6.2"/><rect x="191.07" y="456.46" width="3" height="6.04"/><rect x="199.41" y="456.39" width="3" height="6.11"/><rect x="203.58" y="456.94" width="3" height="5.56"/><rect x="207.75" y="457.46" width="3" height="5.04"/><rect x="211.92" y="457.7" width="3" height="4.8"/><rect x="216.09" y="458.3" width="3" height="4.2"/><rect x="220.26" y="458.95" width="3" height="3.55"/><rect x="228.6" y="458.92" width="3" height="3.58"/><rect x="232.77" y="458.99" width="3" height="3.51"/><rect x="236.94" y="460.31" width="3" height="2.19"/><rect x="241.11" y="462.42" width="3" height="1"/><rect x="462.12" y="461.52" width="3" height="1"/><rect x="466.29" y="462.08" width="3" height="1"/><rect x="474.63" y="462.16" width="3" height="1"/><rect x="478.8" y="462.47" width="3" height="1"/><rect x="491.31" y="461.7" width="3" height="1"/><rect x="512.16" y="457.66" width="3" height="4.84"/><rect x="524.67" y="456.24" width="3" height="6.26"/><rect x="528.84" y="457.57" width="3" height="4.93"/><rect x="533.01" y="458.43" width="3" height="4.07"/><rect x="537.18" y="458.89" width="3" height="3.61"/><rect x="541.35" y="459.79" width="3" height="2.71"/><rect x="545.52" y="460.16" width="3" height="2.34"/><rect x="549.69" y="461.04" width="3" height="1.46"/><rect x="553.86" y="462.11" width="3" height="1"/><rect x="591.39" y="462.18" width="3" height="1"/></g>
<g fill="#e63b42"><rect x="3.42" y="462.5" width="3" height="3.07"/><rect x="7.59" y="462.5" width="3" height="3.13"/><rect x="20.1" y="462.5" width="3" height="3.41"/><rect x="24.27" y="462.5" width="3" height="3.49"/><rect x="153.54" y="462.5" width="3" height="1"/><rect x="157.71" y="462.5" width="3" height="1"/><rect x="161.88" y="462.5" width="3" height="1"/><rect x="245.28" y="462.5" width="3" height="3.42"/><rect x="249.45" y="462.5" width="3" height="4.38"/><rect x="253.62" y="462.5" width="3" height="5.38"/><rect x="257.79" y="462.5" width="3" height="8.55"/><rect x="266.13" y="462.5" width="3" height="8.1"/><rect x="270.3" y="462.5" width="3" height="8.89"/><rect x="274.47" y="462.5" width="3" height="9.05"/><rect x="303.66" y="462.5" width="3" height="1.36"/><rect x="312" y="462.5" width="3" height="1.15"/><rect x="316.17" y="462.5" width="3" height="3.35"/><rect x="320.34" y="462.5" width="3" height="4.47"/><rect x="345.36" y="462.5" width="3" height="1.23"/><rect x="357.87" y="462.5" width="3" height="2.05"/><rect x="362.04" y="462.5" width="3" height="4.22"/><rect x="366.21" y="462.5" width="3" height="4.65"/><rect x="370.38" y="462.5" width="3" height="5.77"/><rect x="374.55" y="462.5" width="3" height="6.05"/><rect x="378.72" y="462.5" width="3" height="7.06"/><rect x="407.91" y="462.5" width="3" height="1"/><rect x="412.08" y="462.5" width="3" height="1"/><rect x="416.25" y="462.5" width="3" height="1"/><rect x="420.42" y="462.5" width="3" height="1.08"/><rect x="424.59" y="462.5" width="3" height="1.27"/><rect x="432.93" y="462.5" width="3" height="2.08"/><rect x="437.1" y="462.5" width="3" height="3.67"/><rect x="441.27" y="462.5" width="3" height="4.05"/><rect x="558.03" y="462.5" width="3" height="1"/><rect x="562.2" y="462.5" width="3" height="1"/><rect x="566.37" y="462.5" width="3" height="1.12"/><rect x="570.54" y="462.5" width="3" height="1.37"/><rect x="595.56" y="462.5" width="3" height="1"/><rect x="599.73" y="462.5" width="3" height="1"/><rect x="603.9" y="462.5" width="3" height="1"/><rect x="608.07" y="462.5" width="3" height="1.79"/><rect x="612.24" y="462.5" width="3" height="2.07"/><rect x="616.41" y="462.5" width="3" height="2.87"/><rect x="620.58" y="462.5" width="3" height="3.61"/><rect x="624.75" y="462.5" width="3" height="3.81"/><rect x="637.26" y="462.5" width="3" height="3.7"/><rect x="641.43" y="462.5" width="3" height="3.79"/><rect x="649.77" y="462.5" width="3" height="3.75"/><rect x="658.11" y="462.5" width="3" height="3.64"/><rect x="662.28" y="462.5" width="3" height="4.78"/><rect x="699.81" y="462.5" width="3" height="1"/><rect x="703.98" y="462.5" width="3" height="2.09"/><rect x="708.15" y="462.5" width="3" height="3.01"/></g>
<g fill="#f7c6cb"><rect x="-0.75" y="462.5" width="3" height="2.55"/><rect x="11.76" y="462.5" width="3" height="2.96"/><rect x="15.93" y="462.5" width="3" height="2.76"/><rect x="28.44" y="462.5" width="3" height="3.25"/><rect x="32.61" y="462.5" width="3" height="2.96"/><rect x="36.78" y="462.5" width="3" height="1.74"/><rect x="40.95" y="462.5" width="3" height="1"/><rect x="45.12" y="462.5" width="3" height="1"/><rect x="166.05" y="462.5" width="3" height="1"/><rect x="261.96" y="462.5" width="3" height="7.73"/><rect x="278.64" y="462.5" width="3" height="7.46"/><rect x="282.81" y="462.5" width="3" height="5.05"/><rect x="286.98" y="462.5" width="3" height="3.39"/><rect x="291.15" y="462.5" width="3" height="2.59"/><rect x="295.32" y="462.5" width="3" height="1.49"/><rect x="299.49" y="462.5" width="3" height="1.29"/><rect x="307.83" y="462.5" width="3" height="1"/><rect x="324.51" y="462.5" width="3" height="3.9"/><rect x="328.68" y="462.5" width="3" height="3.78"/><rect x="332.85" y="462.5" width="3" height="3.14"/><rect x="337.02" y="462.5" width="3" height="2.48"/><rect x="341.19" y="462.5" width="3" height="1.01"/><rect x="349.53" y="462.5" width="3" height="1"/><rect x="353.7" y="462.5" width="3" height="1"/><rect x="382.89" y="462.5" width="3" height="6.35"/><rect x="387.06" y="462.5" width="3" height="5.43"/><rect x="391.23" y="462.5" width="3" height="4.06"/><rect x="395.4" y="462.5" width="3" height="2.99"/><rect x="399.57" y="462.5" width="3" height="1.28"/><rect x="403.74" y="462.5" width="3" height="1"/><rect x="428.76" y="462.5" width="3" height="1"/><rect x="445.44" y="462.5" width="3" height="2.32"/><rect x="449.61" y="462.5" width="3" height="1"/><rect x="574.71" y="462.5" width="3" height="1.05"/><rect x="578.88" y="462.5" width="3" height="1"/><rect x="628.92" y="462.5" width="3" height="3.62"/><rect x="633.09" y="462.5" width="3" height="3.39"/><rect x="645.6" y="462.5" width="3" height="3.68"/><rect x="653.94" y="462.5" width="3" height="3.51"/><rect x="666.45" y="462.5" width="3" height="4.54"/><rect x="670.62" y="462.5" width="3" height="4.52"/><rect x="674.79" y="462.5" width="3" height="3.88"/><rect x="678.96" y="462.5" width="3" height="3.76"/><rect x="683.13" y="462.5" width="3" height="3.19"/><rect x="687.3" y="462.5" width="3" height="1.72"/><rect x="691.47" y="462.5" width="3" height="1"/><rect x="695.64" y="462.5" width="3" height="1"/><rect x="712.32" y="462.5" width="3" height="2.61"/><rect x="716.49" y="462.5" width="3" height="2.57"/></g>
<polyline points="-3.42 461.28 0.75 461.89 4.92 463.18 9.09 464.03 13.26 464.6 17.43 465.08 21.6 466.59 25.77 467.54 29.94 468.11 34.11 468.56 38.28 467.78 42.45 466.96 46.62 466.34 50.79 465.1 54.96 464.32 59.13 463.91 63.3 463.26 67.47 462.68 71.64 462.31 75.81 462.26 79.98 462.17 84.15 461.87 88.32 460.96 92.49 459.69 96.66 457.74 100.83 455.92 105 454.27 109.17 452.16 113.34 450.75 117.51 448.61 121.68 447.06 125.85 445.88 130.02 445.41 134.19 444.99 138.36 445.04 142.53 445.01 146.7 445.42 150.87 446.23 155.04 447.36 159.21 447.97 163.38 448.52 167.55 447.6 171.72 445.62 175.89 441.28 180.06 438.87 184.23 436.53 188.4 435.21 192.57 433.86 196.74 430.27 200.91 430.34 205.08 429.5 209.25 428.76 213.42 427.79 217.59 427.35 221.76 427.11 225.93 425.58 230.1 425.17 234.27 424.36 238.44 425.14 242.61 427.22 246.78 431.58 250.95 433.64 255.12 435.98 259.29 441.29 263.46 442.4 267.63 444.79 271.8 447.81 275.97 450.23 280.14 450.51 284.31 449.36 288.48 448.54 292.65 448.39 296.82 447.67 300.99 447.79 305.16 448.2 309.33 447.77 313.5 448.46 317.67 451.51 321.84 453.73 326.01 454.14 330.18 454.96 334.35 455.12 338.52 455.07 342.69 453.86 346.86 454.39 351.03 454.08 355.2 454.25 359.37 456.08 363.54 459.31 367.71 460.91 371.88 463.46 376.05 465.25 380.22 468.03 384.39 468.91 388.56 469.35 392.73 468.99 396.9 468.67 401.07 467.28 405.24 466.34 409.41 466.79 413.58 466.94 417.75 467.42 421.92 467.91 426.09 468.43 430.26 468.36 434.43 470 438.6 472.5 442.77 473.9 446.94 472.75 451.11 471.21 455.28 469.79 459.45 469.12 463.62 468.94 467.79 469.39 471.96 468.6 476.13 469.15 480.3 469.45 484.47 469.33 488.64 468.31 492.81 468.22 496.98 465.51 501.15 463.89 505.32 461.61 509.49 459.91 513.66 458.95 517.83 455.4 522 453.42 526.17 452.55 530.34 452.65 534.51 452.49 538.68 452.04 542.85 452.27 547.02 452.05 551.19 452.57 555.36 453.55 559.53 453.95 563.7 454.86 567.87 455.53 572.04 456.11 576.21 456.06 580.38 455.13 584.55 454.2 588.72 453.72 592.89 454.24 597.06 454.76 601.23 455.1 605.4 455.5 609.57 457.09 613.74 457.89 617.91 459.41 622.08 461.05 626.25 462.2 630.42 462.92 634.59 463.54 638.76 464.78 642.93 465.81 647.1 466.62 651.27 467.63 655.44 468.27 659.61 469.31 663.78 471.64 667.95 472.54 672.12 473.65 676.29 473.98 680.46 474.8 684.63 475.02 688.8 473.99 692.97 473.01 697.14 472.57 701.31 473.13 705.48 475.19 709.65 476.87 713.82 477.12 717.99 477.73" fill="none" stroke="#3b6cf6" stroke-width="1.4" stroke-linejoin="round"/>
<polyline points="-3.42 458.7 0.75 459.34 4.92 460.11 9.09 460.89 13.26 461.63 17.43 462.32 21.6 463.18 25.77 464.05 29.94 464.86 34.11 465.6 38.28 466.03 42.45 466.22 46.62 466.24 50.79 466.02 54.96 465.68 59.13 465.32 63.3 464.91 67.47 464.46 71.64 464.03 75.81 463.68 79.98 463.38 84.15 463.08 88.32 462.65 92.49 462.06 96.66 461.2 100.83 460.14 105 458.97 109.17 457.61 113.34 456.24 117.51 454.71 121.68 453.18 125.85 451.72 130.02 450.46 134.19 449.37 138.36 448.5 142.53 447.8 146.7 447.33 150.87 447.11 155.04 447.16 159.21 447.32 163.38 447.56 167.55 447.57 171.72 447.18 175.89 446 180.06 444.57 184.23 442.96 188.4 441.41 192.57 439.9 196.74 437.98 200.91 436.45 205.08 435.06 209.25 433.8 213.42 432.6 217.59 431.55 221.76 430.66 225.93 429.64 230.1 428.75 234.27 427.87 238.44 427.32 242.61 427.3 246.78 428.16 250.95 429.26 255.12 430.6 259.29 432.74 263.46 434.67 267.63 436.7 271.8 438.92 275.97 441.18 280.14 443.05 284.31 444.31 288.48 445.16 292.65 445.8 296.82 446.18 300.99 446.5 305.16 446.84 309.33 447.03 313.5 447.31 317.67 448.15 321.84 449.27 326.01 450.24 330.18 451.19 334.35 451.97 338.52 452.59 342.69 452.85 346.86 453.15 351.03 453.34 355.2 453.52 359.37 454.03 363.54 455.09 367.71 456.25 371.88 457.69 376.05 459.21 380.22 460.97 384.39 462.56 388.56 463.92 392.73 464.93 396.9 465.68 401.07 466 405.24 466.07 409.41 466.21 413.58 466.36 417.75 466.57 421.92 466.84 426.09 467.16 430.26 467.4 434.43 467.92 438.6 468.83 442.77 469.85 446.94 470.43 451.11 470.58 455.28 470.43 459.45 470.16 463.62 469.92 467.79 469.81 471.96 469.57 476.13 469.49 480.3 469.48 484.47 469.45 488.64 469.22 492.81 469.02 496.98 468.32 501.15 467.43 505.32 466.27 509.49 465 513.66 463.79 517.83 462.11 522 460.37 526.17 458.81 530.34 457.58 534.51 456.56 538.68 455.66 542.85 454.98 547.02 454.39 551.19 454.03 555.36 453.93 559.53 453.94 563.7 454.12 567.87 454.4 572.04 454.74 576.21 455.01 580.38 455.03 584.55 454.87 588.72 454.64 592.89 454.56 597.06 454.6 601.23 454.7 605.4 454.86 609.57 455.31 613.74 455.82 617.91 456.54 622.08 457.44 626.25 458.39 630.42 459.3 634.59 460.15 638.76 461.07 642.93 462.02 647.1 462.94 651.27 463.88 655.44 464.76 659.61 465.67 663.78 466.86 667.95 468 672.12 469.13 676.29 470.1 680.46 471.04 684.63 471.83 688.8 472.26 692.97 472.41 697.14 472.44 701.31 472.58 705.48 473.1 709.65 473.86 713.82 474.51 717.99 475.15" fill="none" stroke="#ec7430" stroke-width="1.4" stroke-linejoin="round"/>
<path d="M676.5 474 V477.3" stroke="#12b5e5" stroke-width="1.2"/>
<path d="M436 200.2 L443.8 214 H440.4 V229.6 H432 V214 H428.3 Z" fill="none" stroke="#17a63a" stroke-width="1.6" stroke-linejoin="miter"/>
<path d="M630 286.4 L695.4 215.3 M678.7 221.6 L695.4 215.3 L692.8 229.9" fill="none" stroke="#109de6" stroke-width="1.3" stroke-linecap="round" stroke-linejoin="round"/>
<text x="455.2" y="119.3" font-family="DejaVu Sans, Liberation Sans, sans-serif" font-weight="bold" font-size="14.7" fill="#fc7417" stroke="#fc7417" stroke-width="0.6">5</text>
<text x="514.2" y="67.9" font-family="DejaVu Sans, Liberation Sans, sans-serif" font-weight="bold" font-size="14.7" fill="#fc7417" stroke="#fc7417" stroke-width="0.6">20</text>
<text x="560.8" y="129.7" font-family="DejaVu Sans, Liberation Sans, sans-serif" font-weight="bold" font-size="14.7" fill="#fc7417" stroke="#fc7417" stroke-width="0.6">30</text>
<text x="590.8" y="67.6" font-family="DejaVu Sans, Liberation Sans, sans-serif" font-weight="bold" font-size="14.7" fill="#fc7417" stroke="#fc7417" stroke-width="0.6">37</text>
<text x="640.3" y="158.8" font-family="DejaVu Sans, Liberation Sans, sans-serif" font-weight="bold" font-size="14.7" fill="#fc7417" stroke="#fc7417" stroke-width="0.6">54</text>
<text x="717" y="213.8" font-family="DejaVu Sans, Liberation Sans, sans-serif" font-weight="bold" font-size="14.7" fill="#fc7417" stroke="#fc7417" stroke-width="0.6">65?</text>
<text x="542.2" y="308.2" font-family="DejaVu Sans, Liberation Sans, sans-serif" font-weight="bold" font-size="14.5" fill="#109de6" stroke="#109de6" stroke-width="0.5" textLength="121" lengthAdjust="spacingAndGlyphs">The 'shakeout'</text>
<text x="801.5" y="7.7" font-family="Liberation Sans, sans-serif" font-size="11.8" fill="#131722">80,000</text>
<text x="801.5" y="39.88" font-family="Liberation Sans, sans-serif" font-size="11.8" fill="#131722">76,000</text>
<text x="801.5" y="72.05" font-family="Liberation Sans, sans-serif" font-size="11.8" fill="#131722">72,000</text>
<text x="801.5" y="104.23" font-family="Liberation Sans, sans-serif" font-size="11.8" fill="#131722">68,000</text>
<text x="801.5" y="136.4" font-family="Liberation Sans, sans-serif" font-size="11.8" fill="#131722">64,000</text>
<text x="801.5" y="168.58" font-family="Liberation Sans, sans-serif" font-size="11.8" fill="#131722">60,000</text>
<text x="801.5" y="200.76" font-family="Liberation Sans, sans-serif" font-size="11.8" fill="#131722">56,000</text>
<text x="801.5" y="232.93" font-family="Liberation Sans, sans-serif" font-size="11.8" fill="#131722">52,000</text>
<text x="801.5" y="265.11" font-family="Liberation Sans, sans-serif" font-size="11.8" fill="#131722">48,000</text>
<text x="801.5" y="297.28" font-family="Liberation Sans, sans-serif" font-size="11.8" fill="#131722">44,000</text>
<text x="801.5" y="329.46" font-family="Liberation Sans, sans-serif" font-size="11.8" fill="#131722">40,000</text>
<text x="801.5" y="361.64" font-family="Liberation Sans, sans-serif" font-size="11.8" fill="#131722">36,000</text>
<text x="801.5" y="393.81" font-family="Liberation Sans, sans-serif" font-size="11.8" fill="#131722">32,000</text>
<text x="801.5" y="431.9" font-family="Liberation Sans, sans-serif" font-size="11.8" fill="#131722">5,000</text>
<text x="801.5" y="466.5" font-family="Liberation Sans, sans-serif" font-size="11.8" fill="#131722">0</text>
<rect x="794" y="179" width="48.3" height="16.6" rx="2" fill="#d8364c"/>
<text x="801.5" y="191.5" font-family="Liberation Sans, sans-serif" font-size="11.8" fill="#fff">57,209</text>
<text x="63.3" y="501.5" text-anchor="middle" font-family="Liberation Sans, sans-serif" font-size="11.8" fill="#131722">Feb</text>
<text x="184.23" y="501.5" text-anchor="middle" font-family="Liberation Sans, sans-serif" font-size="11.8" fill="#131722">Mar</text>
<text x="313.5" y="501.5" text-anchor="middle" font-family="Liberation Sans, sans-serif" font-size="11.8" fill="#131722">Apr</text>
<text x="438.6" y="501.5" text-anchor="middle" font-family="Liberation Sans, sans-serif" font-size="11.8" fill="#131722">May</text>
<text x="567.87" y="501.5" text-anchor="middle" font-family="Liberation Sans, sans-serif" font-size="11.8" fill="#131722">Jun</text>
<text x="692.97" y="501.5" text-anchor="middle" font-family="Liberation Sans, sans-serif" font-size="11.8" fill="#131722">Jul</text>
<text x="22.4" y="438.4" text-anchor="end" fill="#f5c6cc" font-family="Liberation Sans, sans-serif" font-size="12">−373</text>
<text x="29.3" y="438.4" fill="#3b6cf6" textLength="38" lengthAdjust="spacingAndGlyphs" font-family="Liberation Sans, sans-serif" font-size="12">−2,204</text>
<text x="73.8" y="438.4" fill="#e8702a" textLength="37" lengthAdjust="spacingAndGlyphs" font-family="Liberation Sans, sans-serif" font-size="12">−1,831</text>
<polygon points="828.1,498.1 824.45,504.42 817.15,504.42 813.5,498.1 817.15,491.78 824.45,491.78" fill="none" stroke="#131722" stroke-width="1.3" stroke-linejoin="round"/>
<circle cx="820.8" cy="498.1" r="2.4" fill="none" stroke="#131722" stroke-width="1.3"/>
</svg>
</body></html>
